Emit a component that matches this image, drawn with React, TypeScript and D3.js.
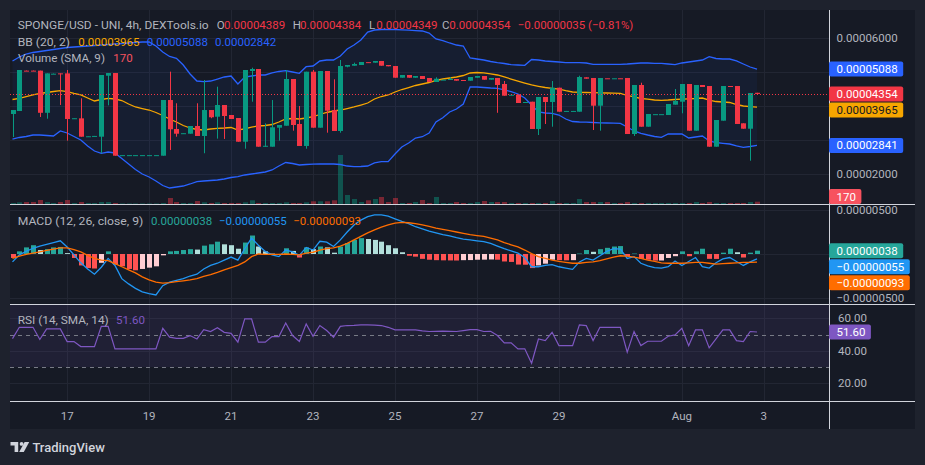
import React, { useRef, useEffect } from "react";
import * as d3 from "d3";

// 4h candles, values in units of 1e-5 USD
const PRICE_UNIT = 1e-5;
const MACD_UNIT = 1e-6;
const startTime = Date.UTC(2023, 6, 15, 16);
const stepMs = 4 * 3600 * 1000;

const opens = [
  3.765, 3.853, 5.04, 5.04, 5.04, 3.8, 4.94, 4.96, 4.96, 3.63,
  3.637, 3.1, 3.11, 3.097, 4.89, 4.97, 2.55, 2.55, 2.55, 2.55,
  2.55, 2.55, 2.538, 4.176, 3.324, 3.19, 3.185, 3.412, 3.118, 3.882,
  3.685, 4.029, 3.735, 3.647, 2.95, 5.029, 5.088, 2.815, 2.803, 3.362,
  3.42, 4.794, 3.471, 2.824, 5.009, 3.362, 5.029, 3.882, 3.265, 5.156,
  5.185, 5.206, 5.29, 5.274, 5.324, 5.206, 5.176, 4.832, 4.912, 4.832,
  4.882, 4.824, 4.706, 4.77, 4.765, 4.794, 4.765, 4.744, 4.832, 4.882,
  4.774, 4.824, 4.647, 4.315, 4.332, 4.088, 4.126, 3.324, 4.265, 4.118,
  4.538, 3.85, 3.85, 3.832, 4.844, 4.824, 4.009, 4.815, 4.81, 4.815,
  4.824, 3.176, 4.618, 3.391, 3.755, 3.755, 3.735, 4.038, 4.126, 4.647,
  3.274, 4.618, 4.588, 2.803, 3.568, 4.588, 4.588, 3.491, 3.332, 4.389,
];
const highs = [
  3.882, 5.059, 5.045, 5.045, 5.04, 4.96, 4.955, 4.96, 5.059, 3.64,
  4.226, 3.11, 3.12, 4.912, 4.97, 4.97, 2.555, 2.555, 2.555, 2.555,
  2.555, 2.555, 4.176, 5.01, 4.08, 3.2, 3.412, 4.08, 4.765, 3.882,
  4.568, 4.029, 3.735, 3.647, 5.059, 5.126, 5.088, 3.49, 4.176, 3.441,
  5.059, 4.794, 4.0, 5.009, 5.059, 5.029, 5.029, 4.785, 5.353, 5.206,
  5.274, 5.294, 5.29, 5.324, 5.324, 5.206, 5.176, 4.912, 4.912, 4.882,
  4.882, 4.824, 4.844, 4.775, 4.844, 4.794, 4.765, 4.853, 4.882, 4.882,
  4.824, 4.824, 4.735, 4.332, 4.332, 4.118, 4.126, 4.265, 4.265, 4.735,
  4.538, 3.855, 3.855, 4.891, 4.844, 4.824, 4.824, 4.815, 4.815, 4.815,
  4.824, 4.618, 4.685, 3.765, 3.76, 3.76, 4.059, 4.5, 4.647, 4.647,
  4.618, 4.618, 4.588, 3.588, 4.588, 4.588, 4.588, 3.491, 4.382, 4.389,
];
const lows = [
  3.088, 3.853, 5.03, 5.03, 3.676, 3.626, 4.94, 4.03, 2.98, 3.63,
  3.097, 3.1, 3.11, 2.61, 4.02, 2.538, 2.55, 2.55, 2.55, 2.55,
  2.55, 2.55, 2.538, 2.706, 3.097, 3.19, 3.185, 3.118, 2.61, 3.64,
  3.04, 3.03, 3.618, 2.95, 2.744, 4.126, 2.803, 2.803, 2.803, 2.98,
  3.42, 3.274, 2.824, 2.744, 3.362, 3.362, 3.215, 3.265, 3.215, 5.138,
  5.185, 5.206, 5.28, 5.274, 5.185, 5.168, 4.832, 4.832, 4.832, 4.832,
  4.794, 4.706, 4.706, 4.77, 4.765, 4.744, 4.735, 4.744, 4.832, 4.774,
  4.774, 3.8, 4.303, 4.315, 4.088, 4.088, 3.324, 3.147, 3.471, 3.391,
  3.832, 3.85, 3.85, 3.832, 4.803, 3.294, 3.274, 4.81, 4.81, 4.81,
  3.176, 3.118, 3.391, 3.391, 3.755, 3.755, 3.735, 4.038, 3.785, 3.274,
  3.274, 4.559, 2.803, 2.803, 3.568, 4.559, 3.471, 3.332, 2.391, 4.349,
];
const closes = [
  3.882, 5.059, 5.03, 5.03, 3.8, 4.96, 4.95, 4.94, 3.618, 3.64,
  3.097, 3.11, 3.12, 4.912, 4.97, 2.538, 2.555, 2.555, 2.555, 2.555,
  2.555, 2.555, 4.176, 3.315, 3.185, 3.2, 3.412, 3.118, 3.882, 3.668,
  4.029, 3.706, 3.618, 2.95, 5.059, 5.088, 2.803, 2.83, 3.374, 3.441,
  4.794, 3.441, 2.824, 5.009, 3.362, 5.029, 3.862, 3.265, 5.176, 5.206,
  5.235, 5.294, 5.28, 5.324, 5.185, 5.168, 4.832, 4.912, 4.832, 4.882,
  4.794, 4.706, 4.803, 4.775, 4.794, 4.744, 4.735, 4.853, 4.882, 4.774,
  4.824, 4.618, 4.303, 4.332, 4.088, 4.118, 3.324, 4.265, 4.118, 4.538,
  3.832, 3.855, 3.855, 4.853, 4.803, 4.009, 4.824, 4.81, 4.815, 4.81,
  3.176, 4.618, 3.391, 3.765, 3.76, 3.76, 4.059, 4.147, 4.647, 3.274,
  4.618, 4.559, 2.803, 3.588, 4.588, 4.559, 3.471, 3.332, 4.382, 4.354,
];
const volumes = [
  74, 126, 148, 148, 296, 148, 74, 148, 296, 74,
  148, 74, 74, 148, 148, 74, 37, 37, 37, 37,
  37, 37, 74, 444, 148, 74, 74, 222, 126, 74,
  126, 74, 74, 74, 126, 274, 74, 74, 74, 74,
  126, 74, 74, 126, 200, 200, 200, 274, 3626, 666,
  370, 148, 274, 370, 518, 148, 444, 74, 74, 148,
  296, 74, 518, 74, 74, 148, 74, 74, 148, 222,
  148, 148, 148, 74, 74, 74, 74, 74, 74, 222,
  74, 74, 74, 370, 148, 148, 148, 148, 74, 74,
  148, 74, 74, 74, 74, 74, 74, 74, 74, 74,
  148, 74, 148, 74, 74, 74, 74, 74, 148, 170,
];

const bbUpper = [
  5.324, 5.441, 5.529, 5.574, 5.603, 5.632, 5.662, 5.691, 5.721, 5.735,
  5.75, 5.765, 5.779, 5.794, 5.809, 5.824, 5.838, 5.853, 5.868, 5.882,
  5.882, 5.765, 5.588, 5.456, 5.403, 5.206, 4.941, 4.735, 4.715, 4.735,
  4.794, 4.853, 4.882, 4.647, 4.853, 4.882, 4.912, 4.912, 4.971, 5.015,
  5.038, 5.0, 4.962, 5.156, 5.176, 5.324, 5.353, 5.353, 5.471, 5.676,
  5.794, 5.941, 6.176, 6.235, 6.25, 6.256, 6.25, 6.241, 6.229, 6.218,
  6.206, 6.147, 5.971, 5.926, 5.853, 5.794, 5.765, 5.412, 5.382, 5.353,
  5.309, 5.274, 5.25, 5.215, 5.206, 5.197, 5.368, 5.353, 5.324, 5.309,
  5.294, 5.274, 5.274, 5.274, 5.265, 5.226, 5.226, 5.226, 5.226, 5.226,
  5.235, 5.25, 5.265, 5.265, 5.256, 5.256, 5.235, 5.215, 5.265, 5.294,
  5.324, 5.353, 5.45, 5.397, 5.382, 5.382, 5.324, 5.235, 5.147, 5.088,
];
const bbBasis = [
  4.191, 4.221, 4.279, 4.324, 4.368, 4.397, 4.426, 4.45, 4.426, 4.368,
  4.324, 4.235, 4.147, 4.191, 4.226, 4.206, 4.162, 4.059, 3.971, 3.926,
  3.882, 3.809, 3.721, 3.618, 3.529, 3.426, 3.353, 3.309, 3.294, 3.324,
  3.344, 3.353, 3.368, 3.294, 3.324, 3.382, 3.412, 3.426, 3.456, 3.529,
  3.618, 3.632, 3.618, 3.647, 3.685, 3.75, 3.809, 3.853, 3.882, 3.926,
  3.971, 4.029, 4.088, 4.206, 4.279, 4.324, 4.412, 4.485, 4.544, 4.603,
  4.647, 4.691, 4.75, 4.794, 4.824, 4.853, 4.897, 4.971, 4.985, 4.976,
  4.947, 4.912, 4.853, 4.794, 4.735, 4.676, 4.618, 4.579, 4.544, 4.521,
  4.494, 4.45, 4.412, 4.403, 4.397, 4.391, 4.388, 4.382, 4.376, 4.374,
  4.309, 4.265, 4.221, 4.2, 4.176, 4.168, 4.176, 4.191, 4.2, 4.212,
  4.221, 4.235, 4.176, 4.132, 4.118, 4.103, 4.044, 4.0, 3.979, 3.965,
];
const bbLower = [
  3.029, 3.074, 3.103, 3.147, 3.147, 3.132, 3.118, 3.265, 3.206, 3.103,
  3.0, 2.824, 2.676, 2.609, 2.647, 2.618, 2.456, 2.294, 2.132, 2.0,
  1.912, 1.794, 1.662, 1.588, 1.618, 1.647, 1.706, 1.774, 1.794, 1.809,
  1.824, 1.853, 1.897, 1.921, 1.971, 2.0, 2.029, 2.059, 2.118, 2.235,
  2.338, 2.309, 2.265, 2.279, 2.288, 2.294, 2.294, 2.294, 2.279, 2.235,
  2.215, 2.221, 2.235, 2.324, 2.362, 2.362, 2.588, 2.794, 2.912, 3.059,
  3.097, 3.206, 3.529, 3.656, 3.824, 3.912, 4.059, 4.559, 4.559, 4.544,
  4.529, 4.521, 4.471, 4.421, 4.353, 4.235, 4.029, 3.824, 3.794, 3.785,
  3.735, 3.618, 3.544, 3.529, 3.524, 3.515, 3.506, 3.5, 3.494, 3.491,
  3.382, 3.265, 3.197, 3.147, 3.103, 3.079, 3.176, 3.176, 3.176, 3.059,
  3.088, 3.118, 2.971, 2.926, 2.903, 2.882, 2.824, 2.785, 2.809, 2.841,
];

// MACD values in units of 1e-6
const macdLine = [
  -0.9, -0.1, 0.3, 0.65, 0.9, 1.1, 1.3, 1.5, 0.8, -0.1,
  -1.0, -1.7, -2.3, -1.5, -0.5, -1.3, -2.8, -3.4, -3.9, -4.3,
  -4.5, -4.65, -3.6, -3.2, -3.0, -2.8, -2.5, -2.3, -1.7, -1.3,
  -1.05, -0.7, -0.35, -0.7, 0.6, 1.8, 1.0, 0.3, -0.1, -0.3,
  0.45, 0.25, -0.15, 0.75, 0.45, 1.45, 1.35, 0.85, 1.6, 2.5,
  3.3, 3.85, 4.25, 4.45, 4.45, 4.3, 4.0, 3.7, 3.45, 3.1,
  2.85, 2.6, 2.4, 2.2, 2.05, 1.85, 1.7, 1.6, 1.5, 1.4,
  1.2, 0.9, 0.6, 0.35, 0.1, -0.4, -1.45, -1.45, -1.3, -1.2,
  -1.45, -1.6, -1.75, -0.9, -0.5, -0.7, -0.2, 0.3, 0.6, 0.55,
  -0.5, -0.3, -1.05, -1.35, -1.55, -1.6, -1.45, -0.8, -1.3, -0.85,
  -0.4, -1.45, -1.6, -1.0, -0.55, -0.4, -0.85, -1.3, -0.9, -0.55,
];
const macdSignal = [
  -0.5, -0.25, -0.05, 0.1, 0.25, 0.4, 0.55, 0.7, 0.7, 0.5,
  0.25, -0.15, -0.5, -0.7, -0.75, -1.1, -1.45, -1.8, -2.15, -2.6,
  -2.95, -3.2, -3.3, -3.25, -3.15, -3.05, -2.95, -2.8, -2.55, -2.35,
  -2.1, -1.8, -1.55, -1.3, -0.9, -0.3, 0.0, -0.05, -0.05, -0.05,
  0.0, -0.05, -0.1, 0.1, 0.2, 0.45, 0.6, 0.7, 0.9, 1.2,
  1.6, 2.0, 2.4, 2.75, 3.05, 3.3, 3.5, 3.6, 3.55, 3.45,
  3.3, 3.15, 2.95, 2.8, 2.65, 2.5, 2.35, 2.2, 2.1, 2.0,
  1.8, 1.6, 1.3, 1.05, 0.8, 0.45, 0.05, -0.3, -0.5, -0.7,
  -0.85, -0.95, -1.05, -1.05, -0.95, -0.9, -0.75, -0.55, -0.35, -0.2,
  -0.25, -0.35, -0.5, -0.7, -0.85, -1.0, -1.05, -1.05, -1.05, -1.0,
  -0.95, -0.95, -1.05, -1.15, -1.1, -1.05, -1.0, -0.95, -0.95, -0.93,
];
const macdHist = [
  -0.45, 0.3, 0.75, 1.0, 0.45, 0.55, 0.75, 0.8, 0.1, -0.45,
  -1.3, -1.6, -1.65, -1.0, 0.3, -1.2, -1.4, -1.7, -1.85, -1.7,
  -1.55, -1.4, -0.15, 0.3, 0.35, 0.45, 0.55, 0.5, 0.95, 1.1,
  1.4, 1.1, 1.0, 0.6, 1.3, 2.1, 0.85, 0.3, 0.05, 0.0,
  0.65, 0.35, -0.4, 0.75, 0.55, 0.85, 0.75, 0.15, 0.85, 1.25,
  1.6, 1.8, 1.7, 1.6, 1.4, 1.0, 0.65, 0.2, -0.2, -0.3,
  -0.55, -0.65, -0.7, -0.72, -0.73, -0.74, -0.7, -0.69, -0.65, -0.64,
  -0.62, -0.65, -0.85, -0.9, -1.2, -1.22, -1.6, -1.3, -1.1, -0.65,
  -0.7, -0.72, -0.7, 0.05, 0.45, 0.25, 0.55, 0.7, 0.85, 0.9,
  -0.25, 0.05, -0.55, -0.65, -0.75, -0.74, -0.45, -0.25, 0.3, -0.25,
  0.3, 0.6, -0.55, -0.56, 0.15, 0.6, 0.2, -0.4, 0.15, 0.38,
];

const rsiValues = [
  47.5, 54.5, 54.5, 54.5, 47, 53.5, 53.5, 53.5, 45.7, 45.7,
  42.6, 42.6, 42.6, 55.1, 55.1, 41.2, 41.2, 41.2, 41.2, 41.2,
  41.2, 41.2, 53.9, 48.4, 47.7, 47.7, 49.4, 47.3, 53.1, 51.9,
  54.3, 51.4, 50.8, 45.3, 59.7, 59.7, 45.3, 45.3, 48.8, 48.8,
  57.2, 49.4, 45.7, 56.6, 49.0, 55.6, 52.5, 48.4, 55.1, 55.6,
  55.7, 56.0, 56.0, 55.9, 55.6, 54.5, 52.9, 52.9, 52.9, 52.9,
  52.3, 51.9, 52.0, 52.1, 52.0, 51.9, 52.5, 53.1, 53.1, 51.9,
  52.0, 49.4, 44.9, 44.9, 41.2, 41.2, 32.3, 47.3, 46.3, 51.4,
  43.2, 43.2, 43.2, 56.0, 55.6, 46.3, 54.5, 54.5, 54.5, 54.5,
  39.1, 51.9, 43.2, 45.9, 45.9, 45.9, 49.0, 49.8, 53.9, 43.2,
  52.9, 52.9, 41.8, 47.3, 52.9, 52.9, 46.3, 45.7, 51.9, 51.6,
];

const dateTicks = [
  Date.UTC(2023, 6, 17), Date.UTC(2023, 6, 19), Date.UTC(2023, 6, 21),
  Date.UTC(2023, 6, 23), Date.UTC(2023, 6, 25), Date.UTC(2023, 6, 27),
  Date.UTC(2023, 6, 29), Date.UTC(2023, 7, 1), Date.UTC(2023, 7, 3),
];
const dateTickLabels = ["17", "19", "21", "23", "25", "27", "29", "Aug", "3"];
const priceTicks = [2, 3, 4, 5, 6];
const macdTicks = [-5, 0, 5];
const rsiTicks = [20, 40, 60];

const FONT = "Roboto, 'Noto Sans', sans-serif";
const UP = "#089981";
const DOWN = "#f23645";
const TEXT = "#b2b5be";
const GRID = "#222633";
const SEP = "#d1d4dc";
const BOX_H = 15;

const fmt8 = (v: number) => (v < 0 ? "\u2212" : "") + Math.abs(v).toFixed(8);

const App: React.FC = () => {
  const ref = useRef<SVGSVGElement>(null);

  useEffect(() => {
    if (!ref.current) return;
    const svg = d3.select(ref.current);
    svg.selectAll("*").remove();

    const n = closes.length;
    const times = d3.range(n).map((i) => new Date(startTime + i * stepMs));
    const x = d3
      .scaleUtc()
      .domain([times[0], times[n - 1]])
      .range([12.5, 757]);
    const cx = (i: number) => Math.round(x(times[i]));

    const yPrice = d3.scaleLinear().domain([2, 6]).range([174, 38]);
    const yVol = d3
      .scaleLinear()
      .domain([0, d3.max(volumes) as number])
      .range([204, 155]);
    const yMacd = d3.scaleLinear().domain([-5, 5]).range([298, 210]);
    const yRsi = d3.scaleLinear().domain([20, 60]).range([383.2, 318.4]);

    // backgrounds
    svg.append("rect").attr("width", 925).attr("height", 465).attr("fill", "#1e222d");
    svg
      .append("rect")
      .attr("x", 10)
      .attr("y", 10)
      .attr("width", 905)
      .attr("height", 419)
      .attr("fill", "#161a25");

    const defs = svg.append("defs");
    const clip = (id: string, y0: number, y1: number) =>
      defs
        .append("clipPath")
        .attr("id", id)
        .append("rect")
        .attr("x", 10)
        .attr("y", y0)
        .attr("width", 819)
        .attr("height", y1 - y0);
    clip("cMain", 10, 204);
    clip("cMacd", 205, 304);
    clip("cRsi", 305, 401);

    // grid
    const grid = svg.append("g").attr("stroke", GRID).attr("stroke-width", 1);
    dateTicks.forEach((t) => {
      const gx = Math.round(x(new Date(t))) + 0.5;
      grid.append("line").attr("x1", gx).attr("x2", gx).attr("y1", 10).attr("y2", 401);
    });
    priceTicks.forEach((v) => {
      const gy = Math.round(yPrice(v)) + 0.5;
      grid.append("line").attr("x1", 10).attr("x2", 829).attr("y1", gy).attr("y2", gy);
    });
    macdTicks.forEach((v) => {
      const gy = Math.round(yMacd(v)) + 0.5;
      grid.append("line").attr("x1", 10).attr("x2", 829).attr("y1", gy).attr("y2", gy);
    });
    rsiTicks.forEach((v) => {
      const gy = Math.round(yRsi(v)) + 0.5;
      grid.append("line").attr("x1", 10).attr("x2", 829).attr("y1", gy).attr("y2", gy);
    });

    // ---- main pane
    const main = svg.append("g").attr("clip-path", "url(#cMain)");
    const idx = d3.range(n);

    main
      .append("path")
      .attr(
        "d",
        d3
          .area<number>()
          .x((i) => x(times[i]))
          .y0((i) => yPrice(bbLower[i]))
          .y1((i) => yPrice(bbUpper[i]))(idx) as string
      )
      .attr("fill", "rgba(41,98,255,0.06)");

    main
      .selectAll("rect.vol")
      .data(idx)
      .enter()
      .append("rect")
      .attr("x", (i) => cx(i) - 2)
      .attr("width", 5)
      .attr("y", (i) => yVol(volumes[i]))
      .attr("height", (i) => 204 - yVol(volumes[i]))
      .attr("fill", (i) =>
        closes[i] >= opens[i] ? "rgba(8,153,129,0.45)" : "rgba(242,54,69,0.45)"
      );

    const bbLine = (vals: number[], color: string) =>
      main
        .append("path")
        .attr(
          "d",
          d3
            .line<number>()
            .x((i) => x(times[i]))
            .y((i) => yPrice(vals[i]))(idx) as string
        )
        .attr("fill", "none")
        .attr("stroke", color)
        .attr("stroke-width", 1.3);
    bbLine(bbUpper, "#2962ff");
    bbLine(bbLower, "#2962ff");
    bbLine(bbBasis, "#f7a600");

    const candles = main.selectAll("g.c").data(idx).enter().append("g");
    candles
      .append("line")
      .attr("x1", (i) => cx(i) + 0.5)
      .attr("x2", (i) => cx(i) + 0.5)
      .attr("y1", (i) => yPrice(highs[i]))
      .attr("y2", (i) => yPrice(lows[i]))
      .attr("stroke", (i) => (closes[i] >= opens[i] ? UP : DOWN));
    candles
      .append("rect")
      .attr("x", (i) => cx(i) - 2)
      .attr("width", 5)
      .attr("y", (i) => yPrice(Math.max(opens[i], closes[i])))
      .attr("height", (i) =>
        Math.max(1, yPrice(Math.min(opens[i], closes[i])) - yPrice(Math.max(opens[i], closes[i])))
      )
      .attr("fill", (i) => (closes[i] >= opens[i] ? UP : DOWN));

    const lastY = Math.round(yPrice(closes[n - 1])) + 0.5;
    svg
      .append("line")
      .attr("x1", 10)
      .attr("x2", 829)
      .attr("y1", lastY)
      .attr("y2", lastY)
      .attr("stroke", DOWN)
      .attr("stroke-dasharray", "1,2");

    // ---- MACD pane
    const mg = svg.append("g").attr("clip-path", "url(#cMacd)");
    mg.selectAll("rect.h")
      .data(idx)
      .enter()
      .append("rect")
      .attr("x", (i) => cx(i) - 2)
      .attr("width", 5)
      .attr("y", (i) => Math.min(yMacd(macdHist[i]), yMacd(0)))
      .attr("height", (i) => Math.max(0.5, Math.abs(yMacd(macdHist[i]) - yMacd(0))))
      .attr("fill", (i) => {
        const v = macdHist[i];
        const p = i > 0 ? macdHist[i - 1] : v + 0.1;
        if (v >= 0) return v > p ? "#26a69a" : "#b2dfdb";
        return v < p ? "#ff5252" : "#ffcdd2";
      });
    const macdPath = (vals: number[], color: string) =>
      mg
        .append("path")
        .attr(
          "d",
          d3
            .line<number>()
            .x((i) => x(times[i]))
            .y((i) => yMacd(vals[i]))(idx) as string
        )
        .attr("fill", "none")
        .attr("stroke", color)
        .attr("stroke-width", 1.3);
    macdPath(macdLine, "#2196f3");
    macdPath(macdSignal, "#ff6d00");

    // ---- RSI pane
    const rg = svg.append("g").attr("clip-path", "url(#cRsi)");
    rg.append("rect")
      .attr("x", 10)
      .attr("width", 819)
      .attr("y", yRsi(70))
      .attr("height", yRsi(30) - yRsi(70))
      .attr("fill", "rgba(126,87,194,0.1)");
    [70, 50, 30].forEach((v) => {
      const gy = Math.round(yRsi(v)) + 0.5;
      rg.append("line")
        .attr("x1", 10)
        .attr("x2", 829)
        .attr("y1", gy)
        .attr("y2", gy)
        .attr("stroke", "#787b86")
        .attr("stroke-dasharray", "4,4");
    });
    rg.append("path")
      .attr(
        "d",
        d3
          .line<number>()
          .x((i) => x(times[i]))
          .y((i) => yRsi(rsiValues[i]))(idx) as string
      )
      .attr("fill", "none")
      .attr("stroke", "#7e57c2")
      .attr("stroke-width", 1.2);

    // separators
    const sep = svg.append("g").attr("stroke", SEP).attr("stroke-width", 1);
    [204.5, 304.5, 401.5].forEach((sy) =>
      sep.append("line").attr("x1", 10).attr("x2", 915).attr("y1", sy).attr("y2", sy)
    );
    sep.append("line").attr("x1", 829.5).attr("x2", 829.5).attr("y1", 10).attr("y2", 429);

    const text = (
      g: d3.Selection<any, any, any, any>,
      tx: number,
      ty: number,
      s: string,
      fill: string,
      anchor = "start",
      len?: number
    ) => {
      const t = g
        .append("text")
        .attr("x", tx)
        .attr("y", ty)
        .attr("fill", fill)
        .attr("font-family", FONT)
        .attr("font-size", 11.5)
        .attr("text-anchor", anchor)
        .text(s);
      if (len) t.attr("textLength", len).attr("lengthAdjust", "spacingAndGlyphs");
      return t;
    };

    // value boxes, stacked to avoid overlap; returns the occupied ranges
    const placeBoxes = (items: { y: number }[], maxBottom: number) => {
      const order = items.map((_, k) => k).sort((a, b) => items[a].y - items[b].y);
      const tops: number[] = new Array(items.length);
      let prevBottom = -Infinity;
      order.forEach((k) => {
        let top = items[k].y - BOX_H / 2;
        if (top < prevBottom + 1) top = prevBottom + 1;
        if (top + BOX_H > maxBottom) top = maxBottom - BOX_H;
        prevBottom = top + BOX_H;
        tops[k] = top;
      });
      return tops;
    };

    const mainBoxes = [
      { y: yPrice(bbUpper[n - 1]), label: fmt8(bbUpper[n - 1] * PRICE_UNIT), bg: "#2962ff", fg: "#ffffff" },
      { y: yPrice(closes[n - 1]), label: fmt8(closes[n - 1] * PRICE_UNIT), bg: DOWN, fg: "#ffffff" },
      { y: yPrice(bbBasis[n - 1]), label: fmt8(bbBasis[n - 1] * PRICE_UNIT), bg: "#f7a600", fg: "#131722" },
      { y: yPrice(bbLower[n - 1]), label: fmt8(bbLower[n - 1] * PRICE_UNIT), bg: "#2962ff", fg: "#ffffff" },
    ];
    const volBoxes = [{ y: yVol(volumes[n - 1]), label: String(volumes[n - 1]), bg: "#f7525f", fg: "#ffffff" }];
    const macdBoxes = [
      { y: yMacd(macdHist[n - 1]), label: fmt8(macdHist[n - 1] * MACD_UNIT), bg: "#26a69a", fg: "#ffffff" },
      { y: yMacd(macdLine[n - 1]), label: fmt8(macdLine[n - 1] * MACD_UNIT), bg: "#2196f3", fg: "#ffffff" },
      { y: yMacd(macdSignal[n - 1]), label: fmt8(macdSignal[n - 1] * MACD_UNIT), bg: "#ff6d00", fg: "#ffffff" },
    ];
    const rsiBoxes = [{ y: yRsi(rsiValues[n - 1]), label: rsiValues[n - 1].toFixed(2), bg: "#7e57c2", fg: "#ffffff" }];

    const mainTops = placeBoxes(mainBoxes, 190);
    const volTops = placeBoxes(volBoxes, 204);
    const macdTops = placeBoxes(macdBoxes, 304);
    const rsiTops = placeBoxes(rsiBoxes, 401);
    const taken = [...mainTops, ...volTops, ...macdTops, ...rsiTops];
    const free = (ty: number) => taken.every((t) => ty + 6 < t || ty - 6 > t + BOX_H);

    // axis labels
    const ax = svg.append("g");
    priceTicks.forEach((v) => {
      if (free(yPrice(v))) text(ax, 836.5, yPrice(v) + 4, fmt8(v * PRICE_UNIT), TEXT);
    });
    macdTicks
      .filter((v) => v !== 0)
      .forEach((v) => text(ax, 836.5, yMacd(v) + 4, fmt8(v * MACD_UNIT), TEXT));
    rsiTicks.forEach((v) => {
      if (free(yRsi(v))) text(ax, 838, yRsi(v) + 4, v.toFixed(2), TEXT);
    });
    dateTicks.forEach((t, k) =>
      text(ax, x(new Date(t)), 420, dateTickLabels[k], TEXT, "middle")
    );

    const drawBoxes = (
      items: { label: string; bg: string; fg: string }[],
      tops: number[]
    ) =>
      items.forEach((b, k) => {
        const r = ax
          .append("rect")
          .attr("x", 829)
          .attr("y", tops[k])
          .attr("height", BOX_H)
          .attr("rx", 2)
          .attr("fill", b.bg);
        const t = text(ax, 836.5, tops[k] + BOX_H / 2 + 4, b.label, b.fg);
        const w = (t.node() as SVGTextElement).getComputedTextLength();
        r.attr("width", w + 13);
      });
    drawBoxes(mainBoxes, mainTops);
    drawBoxes(volBoxes, volTops);
    drawBoxes(macdBoxes, macdTops);
    drawBoxes(rsiBoxes, rsiTops);

    // legends
    const lg = svg.append("g");
    text(lg, 17.7, 29, "SPONGE/USD - UNI, 4h, DEXTools.io", TEXT, "start", 191);
    const ohlc: [string, number, string][] = [
      ["O", 216.7, fmt8(opens[n - 1] * PRICE_UNIT)],
      ["H", 292.7, "0.00004384"],
      ["L", 369, fmt8(lows[n - 1] * PRICE_UNIT)],
      ["C", 442, fmt8(closes[n - 1] * PRICE_UNIT)],
    ];
    ohlc.forEach(([k, lx, v]) => {
      text(lg, lx, 29, k, TEXT);
      text(lg, lx + 7.3, 29, v, DOWN);
    });
    text(lg, 517.7, 29, "\u22120.00000035 (\u22120.81%)", DOWN, "start", 115.6);

    text(lg, 17.7, 45.7, "BB (20, 2)", TEXT, "start", 52.3);
    text(lg, 78.3, 45.7, fmt8(bbBasis[n - 1] * PRICE_UNIT), "#f7a600");
    text(lg, 146.7, 45.7, fmt8(bbUpper[n - 1] * PRICE_UNIT), "#2962ff");
    text(lg, 215, 45.7, "0.00002842", "#2962ff");

    text(lg, 18, 62.3, "Volume (SMA, 9)", TEXT, "start", 87);
    text(lg, 113.3, 62.3, String(volumes[n - 1]), "#f7525f");

    text(lg, 17.7, 225, "MACD (12, 26, close, 9)", TEXT, "start", 125.6);
    text(lg, 151, 225, fmt8(macdHist[n - 1] * MACD_UNIT), "#26a69a");
    text(lg, 219, 225, fmt8(macdLine[n - 1] * MACD_UNIT), "#2196f3");
    text(lg, 293.3, 225, fmt8(macdSignal[n - 1] * MACD_UNIT), "#ff6d00");

    text(lg, 17.7, 324, "RSI (14, SMA, 14)", TEXT, "start", 91);
    text(lg, 116, 324, rsiValues[n - 1].toFixed(2), "#7e57c2");

    // logo
    const logo = svg.append("g").attr("fill", "#d1d4dc");
    logo.append("path").attr("d", "M10.5 442 H18.2 V452 H14.6 V445.6 H10.5 Z");
    logo.append("circle").attr("cx", 21.6).attr("cy", 443.9).attr("r", 1.9);
    logo.append("path").attr("d", "M19.2 452 L24.6 442 H29.2 L23.8 452 Z");
    logo
      .append("text")
      .attr("x", 32.4)
      .attr("y", 452)
      .attr("font-family", FONT)
      .attr("font-size", 13)
      .attr("font-weight", 500)
      .attr("fill", "#d1d4dc")
      .text("TradingView");
  }, []);

  return (
    <svg
      ref={ref}
      width={925}
      height={465}
      style={{ position: "fixed", left: 0, top: 0, display: "block" }}
    />
  );
};

export default App;
